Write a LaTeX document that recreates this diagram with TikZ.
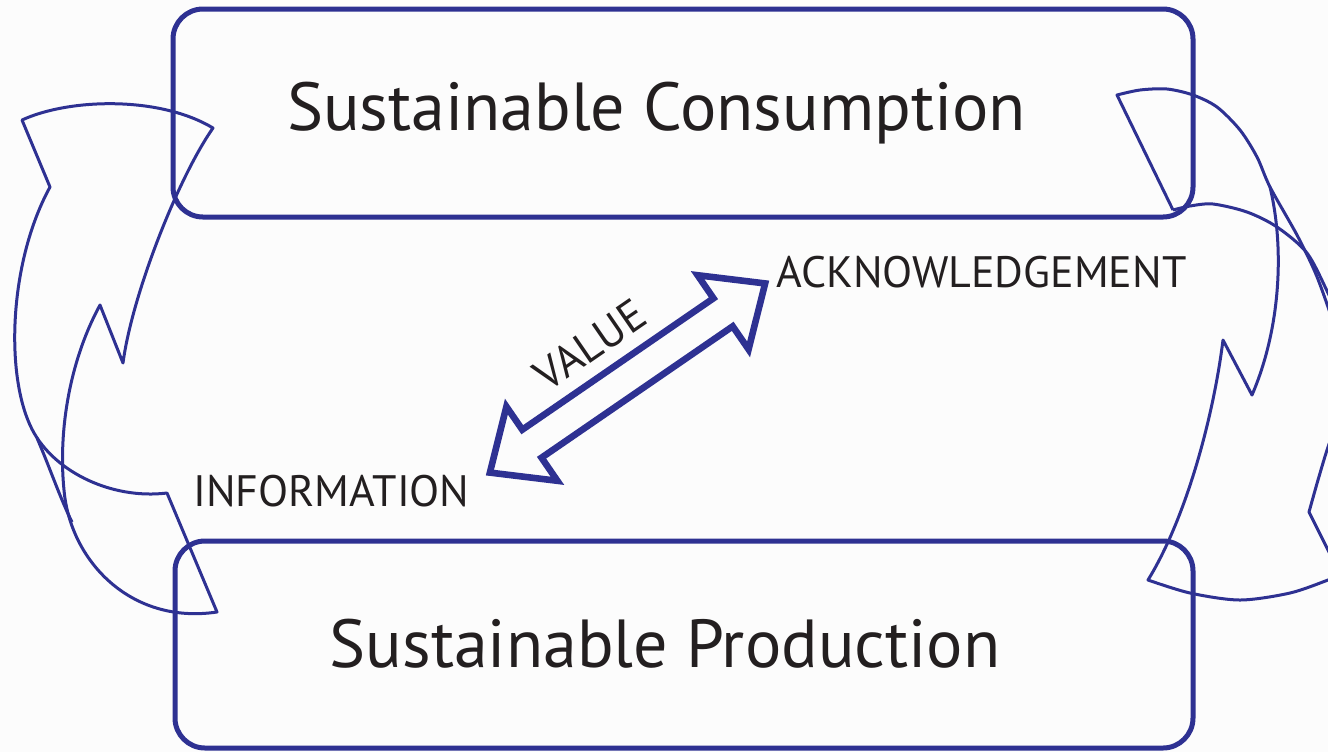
\documentclass[tikz,border=0pt]{standalone}
\usepackage{fontspec}
\setmainfont{PT Sans}
\definecolor{dblue}{HTML}{2E3192}
\definecolor{ink}{HTML}{231F20}
\definecolor{bg}{HTML}{FCFCFC}
\begin{document}
\begin{tikzpicture}[x=0.5pt,y=-0.5pt,
  box/.style={draw=dblue, line width=2.5pt, rounded corners=15pt, inner sep=0pt},
  ribbon/.style={draw=dblue, line width=1.5pt, line join=round},
  bigtext/.style={text=ink, font=\fontsize{34}{38}\selectfont, inner sep=0pt},
  smalltext/.style={text=ink, font=\fontsize{22}{25}\selectfont, inner sep=0pt},
  dbl/.style={draw=dblue, line width=3.3pt, line join=miter}]
\fill[bg] (0,0) rectangle (1328,752);
\useasboundingbox (0,0) rectangle (1328,752);
\clip (0,0) rectangle (1328,752);

% boxes
\node[box, minimum width=510pt, minimum height=104pt] (consumption) at (683,113) {};
\node[box, minimum width=509pt, minimum height=103.5pt] (production) at (684,644.5) {};

% box texts
\node[bigtext, anchor=base] (tc) at (656.5,130) {Sustainable Consumption};
\node[bigtext, anchor=base] (tp) at (665,667) {Sustainable Production};

% labels
\node[smalltext, anchor=base] (ack) at (981.5,287) {ACKNOWLEDGEMENT};
\node[smalltext, anchor=base] (inf) at (331.5,506) {INFORMATION};
\node[smalltext, rotate=34.5] (val) at (590,345) {VALUE};

% double arrow
\begin{scope}[shift={(627.5,378)}, rotate=34.5]
  \draw[dbl] (167,0) -- (116,45) -- (116,17) -- (-116,17) -- (-116,45) -- (-167,0)
    -- (-116,-45) -- (-116,-17) -- (116,-17) -- (116,-45) -- cycle;
\end{scope}

% left ribbon arrow
\draw[ribbon] (22,120) .. controls (70,98) and (160,96) .. (213,128)
  .. controls (178,178) and (132,295) .. (123,363)
  -- (100,305)
  .. controls (70,360) and (58,430) .. (64,490)
  .. controls (70,560) and (130,625) .. (217,612)
  -- (167,493)
  .. controls (110,500) and (50,470) .. (30,425)
  .. controls (5,370) and (10,260) .. (50,187)
  -- cycle;
\draw[ribbon] (37,438) .. controls (50,468) and (60,498) .. (72,522);

% right ribbon arrow
\draw[ribbon] (1173,210) -- (1117,95)
  -- plot[smooth] coordinates {(1117,95) (1140,90) (1167,89) (1193,95) (1217,107) (1240,130) (1257,157) (1270,187) (1297,235) (1315,272) (1328,307) (1340,345)};
\draw[ribbon] plot[smooth] coordinates {(1173,210) (1190,206) (1213,204) (1247,212) (1277,227) (1307,253) (1328,293) (1340,320)};
\draw[ribbon] (1270,187) .. controls (1285,250) and (1280,330) .. (1252,395)
  -- (1223,340)
  .. controls (1213,420) and (1185,520) .. (1148,580)
  -- plot[smooth] coordinates {(1148,580) (1190,593) (1240,600) (1290,593) (1328,580) (1342,574)};
\draw[ribbon] plot[smooth] coordinates {(1340,415) (1328,447) (1318,480) (1309,512)} -- (1342,578);
\end{tikzpicture}
\end{document}
